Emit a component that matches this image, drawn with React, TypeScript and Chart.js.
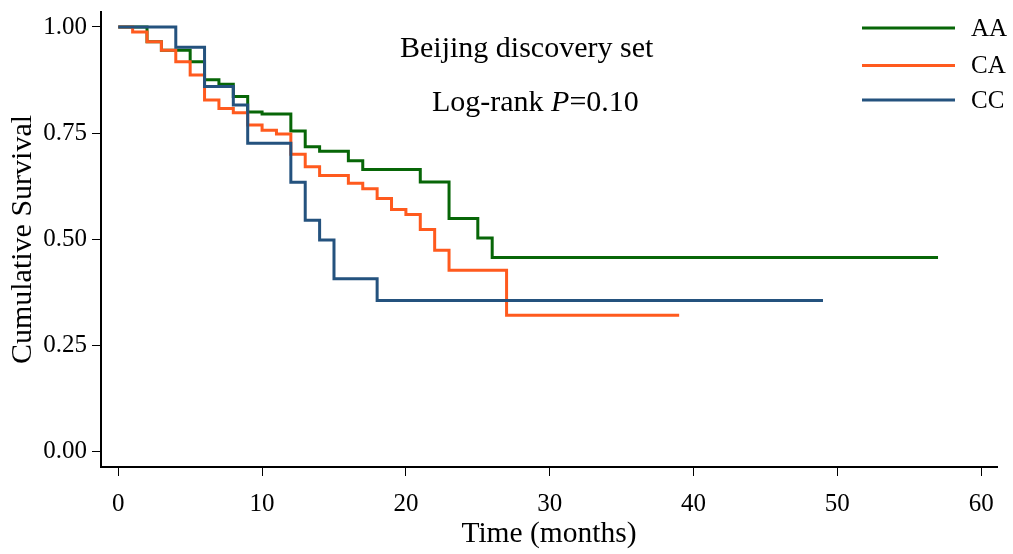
import React, { useEffect, useRef } from "react";
import { Chart, registerables } from "chart.js";

Chart.register(...registerables);

const FONT = "'Liberation Serif', 'Times New Roman', serif";

// Axis tick values
const timeTicks = [0, 10, 20, 30, 40, 50, 60];
const survivalTicks = [0, 0.25, 0.5, 0.75, 1];

// Kaplan-Meier estimates per genotype: event times (months) and survival after each step
const aaTimes = [0, 2, 3, 5, 6, 7, 8, 9, 10, 12, 13, 14, 16, 17, 21, 23, 25, 26, 57];
const aaSurvival = [1, 0.965, 0.945, 0.918, 0.876, 0.865, 0.836, 0.8, 0.795, 0.755, 0.718, 0.707, 0.685, 0.664, 0.635, 0.549, 0.503, 0.457, 0.457];

const caTimes = [0, 1, 2, 3, 4, 5, 6, 7, 8, 9, 10, 11, 12, 13, 14, 16, 17, 18, 19, 20, 21, 22, 23, 27, 39];
const caSurvival = [1, 0.988, 0.965, 0.945, 0.918, 0.887, 0.828, 0.808, 0.798, 0.769, 0.757, 0.748, 0.7, 0.671, 0.65, 0.632, 0.619, 0.596, 0.57, 0.558, 0.523, 0.474, 0.427, 0.321, 0.321];

const ccTimes = [0, 4, 6, 8, 9, 12, 13, 14, 15, 18, 49];
const ccSurvival = [1, 0.952, 0.86, 0.816, 0.726, 0.634, 0.545, 0.498, 0.407, 0.356, 0.356];

const seriesNames = ["AA", "CA", "CC"];
const seriesColors = ["#076607", "#FF5A1E", "#24527E"];

const titleLine = "Beijing discovery set";
const testLabel = "Log-rank ";
const testStat = "P";
const testValue = "=0.10";

const toPoints = (times: number[], values: number[]) =>
  times.map((t, i) => ({ x: t, y: values[i] }));

const overlayPlugin = {
  id: "overlayText",
  afterDraw(chart: Chart) {
    const ctx = chart.ctx;
    ctx.save();

    // legend: line sample with group name
    const legendY = [28, 65.5, 100];
    seriesNames.forEach((name, i) => {
      const y = legendY[i];
      ctx.strokeStyle = seriesColors[i];
      ctx.lineWidth = 3;
      ctx.beginPath();
      ctx.moveTo(862, y);
      ctx.lineTo(955, y);
      ctx.stroke();
      ctx.fillStyle = "#000";
      ctx.font = `25px ${FONT}`;
      ctx.textAlign = "left";
      ctx.textBaseline = "middle";
      ctx.fillText(name, 971, y + 1);
    });

    // annotation text
    ctx.fillStyle = "#000";
    ctx.textAlign = "left";
    ctx.textBaseline = "alphabetic";
    ctx.font = `30px ${FONT}`;
    ctx.fillText(titleLine, 400, 57);

    let x = 432;
    ctx.font = `30px ${FONT}`;
    ctx.fillText(testLabel, x, 111);
    x += ctx.measureText(testLabel).width;
    ctx.font = `italic 30px ${FONT}`;
    ctx.fillText(testStat, x, 111);
    x += ctx.measureText(testStat).width;
    ctx.font = `30px ${FONT}`;
    ctx.fillText(testValue, x, 111);

    ctx.restore();
  },
};

const clearScalePadding = (scale: any) => {
  scale.paddingTop = 0;
  scale.paddingBottom = 0;
  scale.paddingLeft = 0;
  scale.paddingRight = 0;
};

export default function App() {
  const canvasRef = useRef<HTMLCanvasElement | null>(null);

  useEffect(() => {
    const canvas = canvasRef.current;
    if (!canvas) return;

    const lineStyle = (i: number) => ({
      borderColor: seriesColors[i],
      backgroundColor: seriesColors[i],
      borderWidth: 3,
      pointRadius: 0,
      pointHoverRadius: 0,
      stepped: "before" as const,
      fill: false,
      order: 3 - i,
    });

    const chart = new Chart(canvas, {
      type: "line",
      data: {
        datasets: [
          { label: seriesNames[0], data: toPoints(aaTimes, aaSurvival), ...lineStyle(0) },
          { label: seriesNames[1], data: toPoints(caTimes, caSurvival), ...lineStyle(1) },
          { label: seriesNames[2], data: toPoints(ccTimes, ccSurvival), ...lineStyle(2) },
        ],
      },
      options: {
        animation: false,
        responsive: false,
        maintainAspectRatio: false,
        devicePixelRatio: 1,
        layout: { padding: { left: 0, right: 16, top: 12, bottom: 0 } },
        plugins: {
          legend: { display: false },
          title: { display: false },
          tooltip: { enabled: false },
        },
        scales: {
          x: {
            type: "linear",
            position: "bottom",
            min: -1.2,
            max: 61.1,
            afterBuildTicks: (scale: any) => {
              scale.ticks = timeTicks.map((v) => ({ value: v }));
            },
            afterFit: (scale: any) => {
              scale.height = 87;
              clearScalePadding(scale);
            },
            grid: {
              display: true,
              drawOnChartArea: false,
              drawTicks: true,
              tickLength: 9,
              color: "#000",
              lineWidth: 1,
            },
            border: { display: true, color: "#000", width: 2 },
            ticks: {
              color: "#000",
              font: { family: FONT, size: 25 },
              padding: 13,
              maxRotation: 0,
              autoSkip: false,
              callback: (v: any) => String(v),
            },
            title: {
              display: true,
              text: "Time (months)",
              color: "#000",
              font: { family: FONT, size: 29.5 },
              padding: { top: 0, bottom: 2 },
            },
          },
          y: {
            type: "linear",
            position: "left",
            min: -0.0365,
            max: 1.0353,
            afterBuildTicks: (scale: any) => {
              scale.ticks = survivalTicks.map((v) => ({ value: v }));
            },
            afterFit: (scale: any) => {
              scale.width = 101;
              clearScalePadding(scale);
            },
            grid: {
              display: true,
              drawOnChartArea: false,
              drawTicks: true,
              tickLength: 9,
              color: "#000",
              lineWidth: 1,
            },
            border: { display: true, color: "#000", width: 2 },
            ticks: {
              color: "#000",
              font: { family: FONT, size: 25 },
              padding: 5,
              autoSkip: false,
              callback: (v: any) => Number(v).toFixed(2),
            },
            title: {
              display: true,
              text: "Cumulative Survival",
              color: "#000",
              font: { family: FONT, size: 30 },
              padding: { top: 5, bottom: 0 },
            },
          },
        },
      },
      plugins: [overlayPlugin],
    });

    return () => chart.destroy();
  }, []);

  return (
    <div style={{ position: "absolute", left: 0, top: 0, width: 1013, height: 554, background: "#fff" }}>
      <canvas ref={canvasRef} width={1013} height={554} style={{ display: "block" }} />
    </div>
  );
}
